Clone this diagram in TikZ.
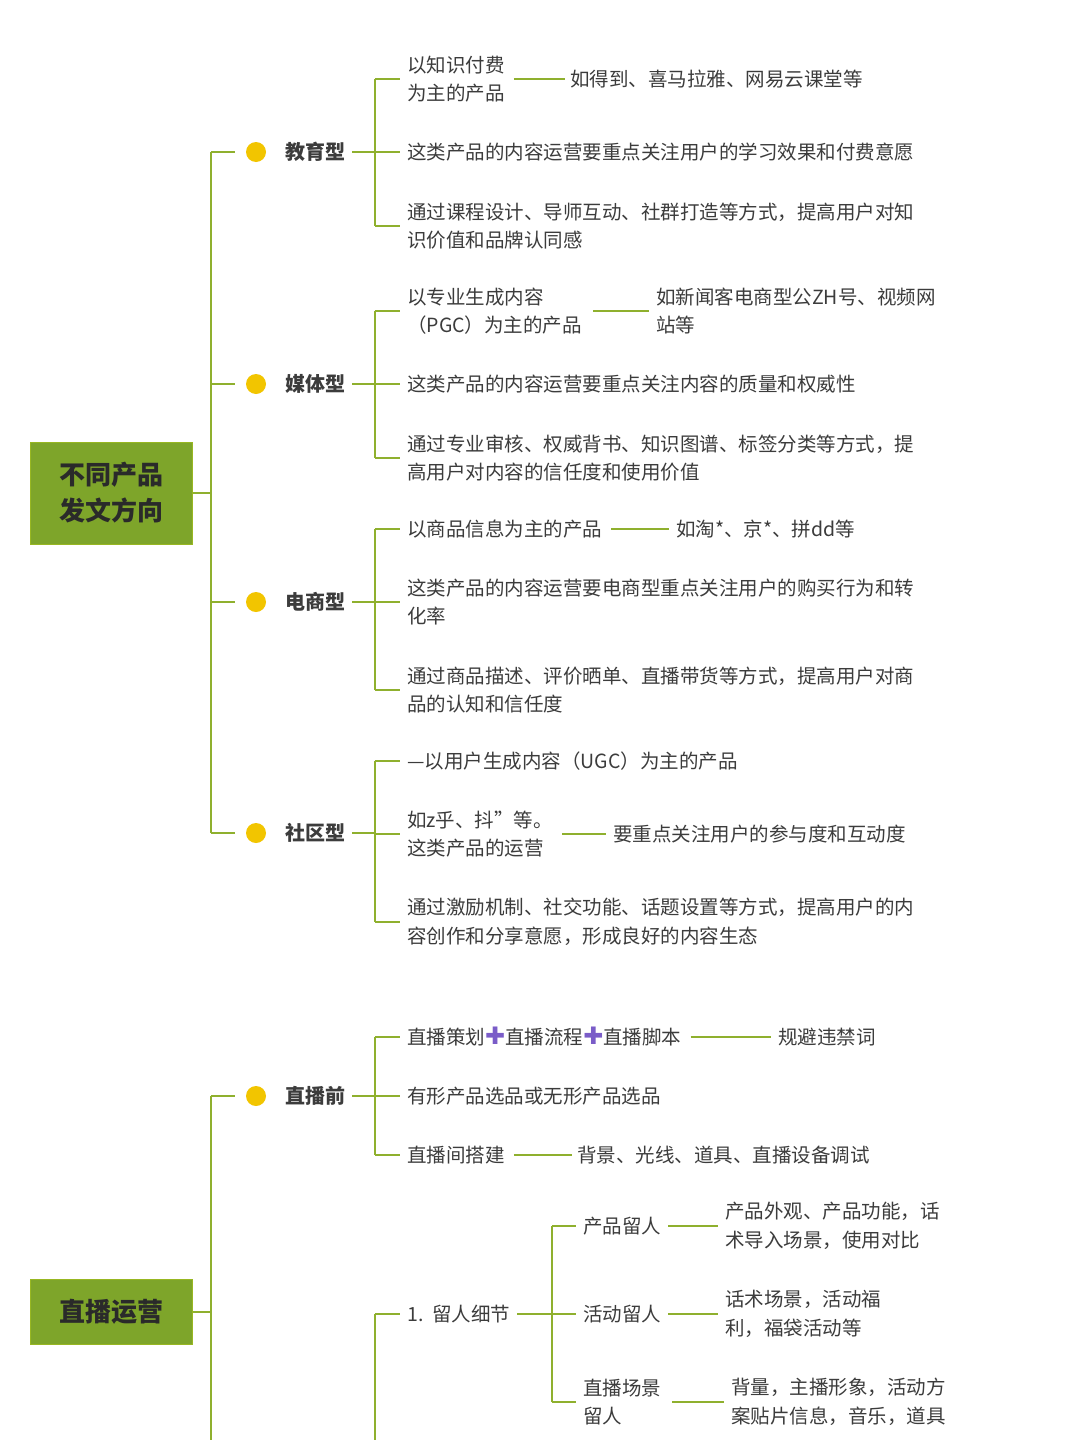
\documentclass[tikz,border=0pt]{standalone}
\usepackage{fontspec}
\setmainfont{Noto Sans CJK SC}
\newfontfamily\symf{DejaVu Sans}
\definecolor{ln}{HTML}{8FB02E}
\definecolor{rootc}{HTML}{7EA52A}
\definecolor{dotc}{HTML}{F2C500}
\definecolor{txt}{HTML}{3C3C3C}
\definecolor{plusc}{HTML}{7A5CC8}
\begin{document}
\begin{tikzpicture}[x=1pt,y=-1pt,
 t/.style={anchor=west,inner xsep=7pt,inner ysep=0pt,align=left,text=txt,font=\fontsize{19.5}{28.5}\selectfont},
 h/.style={t,font=\fontsize{20}{28}\selectfont\bfseries},
 rootbox/.style={fill=rootc,draw=rootc!80!yellow,line width=1pt,text=txt!70!black,font=\fontsize{26}{36}\selectfont\bfseries,align=center,minimum width=162pt,inner sep=0pt},
 l/.style={draw=ln,line width=2.6pt},
 dt/.style={circle,fill=dotc,minimum size=20pt,inner sep=0pt}]
\useasboundingbox (0,0) rectangle (1080,1440);
\fill[white] (0,0) rectangle (1080,1440);
% roots
\node[rootbox,minimum height=102pt] (r1) at (111,493) {不同产品\\发文方向};
\node[rootbox,minimum height=65pt] (r2) at (111,1312) {直播运营};
\draw[l] (r1.east) -- (211,493);
\draw[l] (r2.east) -- (211,1312);
\draw[l] (211,152) -- (211,833);
\draw[l] (211,1096) -- (211,1440);
% level 1
\foreach \n/\y/\s in {a/152/教育型,b/384/媒体型,c/602/电商型,d/833/社区型,e/1096/直播前}{
 \draw[l] (211,\y) -- (235,\y);
 \node[dt] (dot\n) at (256,\y) {};
 \node[h] (\n) at (278,\y) {\s};
 \draw[l] (\n.east) -- (375,\y);
}
% education
\node[t] (a1) at (400,79) {以知识付费\\为主的产品};
\node[t] (a2) at (400,152) {这类产品的内容运营要重点关注用户的学习效果和付费意愿};
\node[t] (a3) at (400,226) {通过课程设计、导师互动、社群打造等方式，提高用户对知\\识价值和品牌认同感};
\node[t] (a1x) at (563,79) {如得到、喜马拉雅、网易云课堂等};
\draw[l] (375,79) -- (375,226);
\foreach \c in {a1,a2,a3}{\draw[l] (375,0 |- \c.west) -- (\c.west);}
\draw[l] ([xshift=2pt]a1.east) -- ([xshift=2pt]a1x.west);
% media
\node[t] (b1) at (400,311) {以专业生成内容\\（PGC）为主的产品};
\node[t] (b2) at (400,384) {这类产品的内容运营要重点关注内容的质量和权威性};
\node[t] (b3) at (400,458) {通过专业审核、权威背书、知识图谱、标签分类等方式，提\\高用户对内容的信任度和使用价值};
\node[t] (b1x) at (649,311) {如新闻客电商型公ZH号、视频网\\站等};
\draw[l] (375,311) -- (375,458);
\foreach \c in {b1,b2,b3}{\draw[l] (375,0 |- \c.west) -- (\c.west);}
\draw[l] ([xshift=4pt]b1.east) -- (b1x.west);
% ecommerce
\node[t] (c1) at (400,529) {以商品信息为主的产品};
\node[t] (c2) at (400,602) {这类产品的内容运营要电商型重点关注用户的购买行为和转\\化率};
\node[t] (c3) at (400,690) {通过商品描述、评价晒单、直播带货等方式，提高用户对商\\品的认知和信任度};
\node[t] (c1x) at (669,529) {如淘*、京*、拼dd等};
\draw[l] (375,529) -- (375,690);
\foreach \c in {c1,c2,c3}{\draw[l] (375,0 |- \c.west) -- (\c.west);}
\draw[l] ([xshift=2pt]c1.east) -- (c1x.west);
% community
\node[t] (d1) at (400,761) {—以用户生成内容（UGC）为主的产品};
\node[t] (d2) at (400,834) {如z乎、抖"等。\\这类产品的运营};
\node[t] (d3) at (400,922) {通过激励机制、社交功能、话题设置等方式，提高用户的内\\容创作和分享意愿，形成良好的内容生态};
\node[t] (d2x) at (606,834) {要重点关注用户的参与度和互动度};
\draw[l] (375,761) -- (375,922);
\foreach \c in {d1,d2,d3}{\draw[l] (375,0 |- \c.west) -- (\c.west);}
\draw[l] ([xshift=2pt]d2.east) -- (d2x.west);
% live before
\node[t] (e1) at (400,1037) {直播策划{\color{plusc}\symf\fontsize{24}{24}\selectfont ✚}直播流程{\color{plusc}\symf\fontsize{24}{24}\selectfont ✚}直播脚本};
\node[t] (e2) at (400,1096) {有形产品选品或无形产品选品};
\node[t] (e3) at (400,1155) {直播间搭建};
\node[t] (e1x) at (771,1037) {规避违禁词};
\node[t] (e3x) at (570,1155) {背景、光线、道具、直播设备调试};
\draw[l] (375,1037) -- (375,1155);
\foreach \c in {e1,e2,e3}{\draw[l] (375,0 |- \c.west) -- (\c.west);}
\draw[l] ([xshift=2pt]e1.east) -- (e1x.west);
\draw[l] ([xshift=2pt]e3.east) -- ([xshift=2pt]e3x.west);
% retention
\node[t] (f) at (400,1314) {1.\ \ 留人细节};
\draw[l] (375,1314) -- (f.west);
\draw[l] (375,1314) -- (375,1440);
\draw[l] (f.east) -- (552,1314);
\draw[l] (552,1226) -- (552,1402);
\node[t] (f1) at (576,1226) {产品留人};
\node[t] (f2) at (576,1314) {活动留人};
\node[t] (f3) at (576,1402) {直播场景\\留人};
\foreach \c in {f1,f2,f3}{\draw[l] (552,0 |- \c.west) -- (\c.west);}
\node[t] (f1x) at (718,1226) {产品外观、产品功能，话\\术导入场景，使用对比};
\node[t] (f2x) at (718,1314) {话术场景，活动福\\利，福袋活动等};
\node[t] (f3x) at (724,1402) {背量，主播形象，活动方\\案贴片信息，音乐，道具};
\draw[l] (f1.east) -- (f1x.west);
\draw[l] (f2.east) -- (f2x.west);
\draw[l] ([xshift=4pt]f3.east) -- (f3x.west);
\end{tikzpicture}
\end{document}
